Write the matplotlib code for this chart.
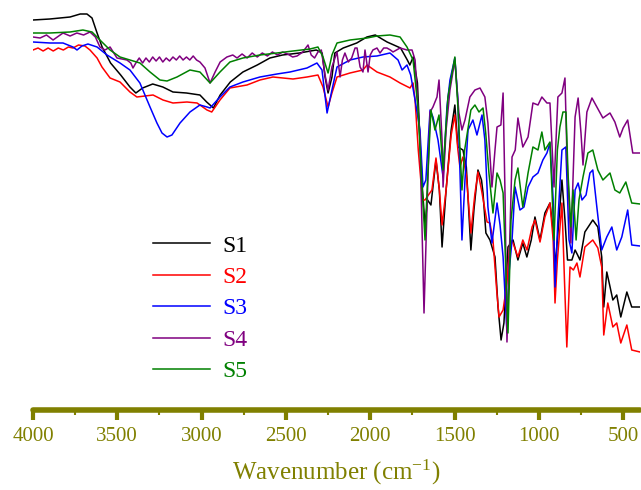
import numpy as np
import matplotlib
matplotlib.use('Agg')
import matplotlib.pyplot as plt
from matplotlib.ticker import MultipleLocator

plt.rcParams['font.family'] = 'Liberation Serif'
plt.rcParams['mathtext.fontset'] = 'custom'
plt.rcParams['mathtext.rm'] = 'Liberation Serif'
plt.rcParams['mathtext.it'] = 'Liberation Serif:italic'

OLIVE = '#808000'

# spectra: wavenumber (cm-1) and transmittance (a.u., offset)
s1_wn = [4000, 3900, 3780, 3720, 3680, 3650, 3620, 3590, 3540, 3480, 3425, 3390, 3350, 3290, 3230,
         3170, 3090, 3010, 2970, 2930, 2890, 2830, 2755, 2670, 2595, 2520, 2420, 2320, 2285, 2268,
         2250, 2227, 2210, 2160, 2080, 2020, 1970, 1900, 1820, 1780, 1765, 1745, 1720, 1705, 1690,
         1675, 1660, 1640, 1610, 1590, 1574, 1550, 1520, 1498, 1480, 1450, 1430, 1403, 1385, 1361,
         1340, 1331, 1314, 1290, 1260, 1242, 1224, 1207, 1183, 1153, 1124, 1095, 1071, 1045, 1023,
         993, 964, 934, 915, 904, 890, 863, 845, 830, 804, 785, 770, 756, 727, 680,
         650, 627, 615, 597, 580, 561, 538, 514, 478, 449, 400]
s1_t = [390, 391, 393, 396, 396, 392, 377, 363, 347, 335, 323, 317, 322, 326, 323,
        318, 317, 315, 308, 302, 315, 328, 338, 345, 352, 355, 357, 360, 357, 333,
        317, 333, 357, 362, 367, 373, 375, 368, 362, 350, 345, 353, 327, 270, 220,
        185, 210, 205, 250, 220, 163, 220, 280, 305, 263, 260, 243, 160, 200, 240,
        230, 217, 177, 170, 153, 103, 70, 87, 163, 170, 150, 167, 153, 170, 193,
        170, 197, 207, 180, 143, 170, 230, 190, 150, 150, 160, 155, 150, 178, 190,
        183, 153, 103, 138, 125, 110, 115, 93, 118, 103, 103]

s2_wn = [4000, 3970, 3940, 3910, 3880, 3850, 3820, 3790, 3763, 3730, 3692, 3662, 3620, 3591, 3543,
         3484, 3425, 3384, 3288, 3229, 3170, 3087, 3027, 2968, 2940, 2891, 2832, 2731, 2654, 2577,
         2458, 2375, 2310, 2280, 2250, 2227, 2197, 2120, 2043, 2019, 1960, 1883, 1823, 1764, 1746,
         1734, 1715, 1690, 1675, 1655, 1634, 1610, 1590, 1574, 1550, 1520, 1498, 1480, 1468, 1450,
         1430, 1403, 1380, 1361, 1340, 1307, 1290, 1272, 1250, 1236, 1212, 1189, 1171, 1153, 1124,
         1095, 1070, 1040, 1023, 993, 964, 934, 915, 904, 890, 863, 848, 834, 815, 795,
         774, 756, 727, 680, 650, 627, 615, 591, 561, 538, 514, 478, 449, 400]
s2_t = [360, 362, 359, 362, 359, 362, 360, 363, 362, 365, 364, 360, 352, 343, 332,
        328, 318, 313, 315, 310, 307, 308, 307, 300, 298, 310, 322, 325, 330, 333,
        331, 333, 335, 323, 303, 317, 333, 337, 340, 345, 338, 333, 327, 322, 327,
        310, 260, 210, 210, 215, 220, 252, 220, 185, 220, 275, 295, 260, 243, 253,
        235, 177, 215, 238, 220, 188, 187, 170, 120, 93, 100, 127, 170, 167, 153,
        170, 160, 183, 190, 168, 193, 207, 170, 107, 150, 207, 130, 63, 143, 140,
        147, 133, 163, 170, 162, 143, 75, 107, 83, 87, 67, 85, 60, 58]

s3_wn = [4000, 3900, 3822, 3763, 3739, 3710, 3674, 3620, 3561, 3484, 3425, 3366, 3306, 3265, 3235,
         3205, 3176, 3128, 3069, 3010, 2968, 2950, 2891, 2832, 2755, 2654, 2553, 2476, 2375, 2316,
         2286, 2256, 2227, 2197, 2120, 2043, 1960, 1883, 1835, 1811, 1782, 1760, 1734, 1705, 1687,
         1670, 1645, 1628, 1598, 1568, 1545, 1527, 1498, 1480, 1456, 1438, 1420, 1391, 1367, 1337,
         1320, 1302, 1278, 1248, 1230, 1212, 1189, 1177, 1159, 1141, 1112, 1088, 1064, 1035, 1005,
         976, 952, 934, 915, 904, 887, 863, 840, 821, 804, 785, 767, 744, 720, 697,
         680, 656, 627, 597, 567, 538, 508, 473, 449, 400]
s3_t = [368, 367, 367, 363, 360, 364, 366, 363, 355, 347, 340, 327, 303, 287, 277,
        273, 275, 287, 298, 305, 303, 302, 313, 323, 328, 333, 336, 338, 342, 347,
        340, 297, 320, 343, 350, 353, 354, 357, 350, 340, 345, 335, 310, 280, 223,
        230, 300, 293, 270, 233, 303, 330, 352, 310, 170, 230, 280, 290, 275, 295,
        270, 203, 167, 207, 185, 153, 77, 137, 170, 223, 200, 203, 223, 233, 237,
        250, 257, 267, 210, 123, 190, 260, 263, 170, 157, 220, 227, 210, 215, 237,
        240, 203, 160, 173, 183, 160, 173, 200, 165, 164]

s4_wn = [4000, 3958, 3920, 3881, 3822, 3780, 3740, 3700, 3662, 3630, 3603, 3573, 3543, 3502, 3443,
         3420, 3407, 3390, 3370, 3350, 3330, 3310, 3290, 3270, 3250, 3230, 3210, 3190, 3170, 3150,
         3130, 3110, 3090, 3070, 3050, 3030, 3010, 2980, 2950, 2920, 2890, 2850, 2815, 2790, 2760,
         2730, 2700, 2670, 2640, 2610, 2580, 2550, 2520, 2490, 2460, 2434, 2400, 2369, 2350, 2330,
         2310, 2290, 2268, 2250, 2227, 2197, 2179, 2165, 2150, 2130, 2110, 2090, 2078, 2060, 2043,
         2031, 2013, 2000, 1984, 1960, 1942, 1920, 1901, 1880, 1865, 1823, 1782, 1752, 1734,
         1705, 1681, 1663, 1645, 1628, 1604, 1592, 1574, 1568, 1550, 1527, 1498, 1474, 1456, 1438,
         1409, 1379, 1349, 1320, 1302, 1278, 1260, 1248, 1225, 1212, 1200, 1189, 1159, 1140, 1124,
         1095, 1064, 1035, 1005, 982, 952, 934, 910, 887, 863, 845, 833, 810, 785, 767,
         750, 738, 715, 685, 656, 620, 578, 549, 520, 500, 473, 443, 400]
s4_t = [373, 372, 375, 370, 377, 374, 377, 375, 378, 373, 363, 360, 363, 352, 350,
        347, 342, 347, 352, 347, 352, 348, 353, 349, 353, 348, 352, 349, 353, 350,
        354, 350, 353, 350, 354, 350, 348, 342, 327, 338, 348, 353, 355, 352, 356,
        352, 357, 353, 357, 354, 358, 355, 358, 356, 353, 354, 358, 365, 355, 352,
        358, 360, 335, 320, 343, 358, 333, 350, 357, 348, 352, 362, 362, 343, 338,
        360, 338, 355, 360, 362, 357, 362, 362, 360, 358, 362, 360, 360, 350,
        270, 97, 203, 298, 303, 313, 330, 270, 223, 280, 320, 350, 297, 280, 290,
        313, 320, 322, 313, 287, 223, 260, 283, 285, 317, 210, 68, 253, 260, 292,
        263, 273, 307, 305, 313, 307, 307, 223, 313, 317, 332, 253, 167, 293, 312,
        277, 245, 298, 312, 303, 292, 297, 288, 273, 282, 290, 257, 257]

s5_wn = [4000, 3900, 3780, 3704, 3650, 3603, 3543, 3484, 3425, 3366, 3306, 3247, 3205, 3146, 3069,
         3010, 2950, 2891, 2832, 2755, 2654, 2553, 2458, 2357, 2310, 2280, 2250, 2227, 2197, 2120,
         2019, 1960, 1883, 1823, 1782, 1746, 1717, 1695, 1675, 1660, 1640, 1616, 1592, 1568, 1539,
         1498, 1480, 1456, 1440, 1403, 1379, 1355, 1331, 1315, 1296, 1272, 1248, 1230, 1212, 1195,
         1183, 1165, 1141, 1124, 1095, 1064, 1035, 1005, 982, 964, 934, 910, 890, 875, 857,
         839, 827, 810, 797, 779, 762, 738, 709, 680, 650, 620, 578, 549, 520, 484,
         449, 400]
s5_t = [377, 377, 378, 380, 378, 370, 360, 353, 350, 347, 338, 330, 329, 333, 340,
        338, 327, 338, 348, 352, 355, 357, 359, 361, 363, 353, 337, 355, 367, 370,
        372, 374, 375, 373, 363, 350, 303, 230, 170, 230, 300, 280, 295, 240, 313,
        353, 303, 220, 260, 300, 305, 298, 302, 277, 237, 197, 237, 230, 217, 137,
        77, 190, 230, 242, 203, 237, 263, 260, 278, 260, 268, 170, 260, 283, 298,
        298, 237, 183, 220, 170, 210, 233, 257, 260, 240, 230, 237, 220, 217, 228,
        207, 206]

labels = ['S1', 'S2', 'S3', 'S4', 'S5']
colors = ['black', 'red', 'blue', 'purple', 'green']

fig = plt.figure(figsize=(6.41, 4.90), dpi=100)
ax = fig.add_axes([33 / 641, 80 / 490, 607 / 641, 410 / 490])

series = [(s1_wn, s1_t), (s2_wn, s2_t), (s3_wn, s3_t), (s4_wn, s4_t), (s5_wn, s5_t)]
for (wn, t), lab, col in zip(series, labels, colors):
    ax.plot(wn, t, color=col, lw=1.1, label=lab)

ax.set_xlim(4000, 400)
ax.set_ylim(0, 410)

for side in ['top', 'left', 'right']:
    ax.spines[side].set_visible(False)
ax.spines['bottom'].set_color(OLIVE)
ax.spines['bottom'].set_linewidth(4)
ax.spines['bottom'].set_capstyle('round')

ax.set_yticks([])
ax.xaxis.set_major_locator(MultipleLocator(500))
ax.xaxis.set_minor_locator(MultipleLocator(250))
ax.tick_params(axis='x', which='major', direction='out', length=7.5, width=3,
               color=OLIVE, labelcolor=OLIVE, labelsize=15, pad=5)
ax.tick_params(axis='x', which='minor', direction='out', length=3.5, width=1.5, color=OLIVE)

ax.set_xlabel('Wavenumber (cm$^{-1}$)', color=OLIVE, fontsize=18, labelpad=8)

ax.legend(loc='upper left', bbox_to_anchor=(153 / 641, 1 - 235 / 490), bbox_transform=fig.transFigure,
          frameon=False, fontsize=17, handlelength=2.4, handletextpad=0.55, labelspacing=0.42,
          borderpad=0, borderaxespad=0, labelcolor='linecolor')

fig.savefig('out.png', dpi=100)
